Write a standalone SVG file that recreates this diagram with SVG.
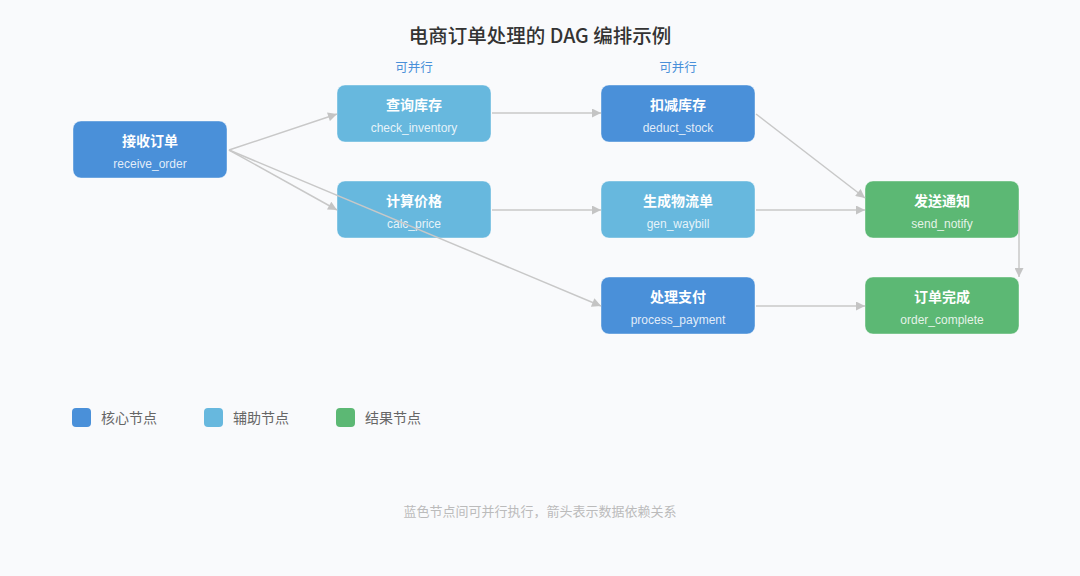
<svg xmlns="http://www.w3.org/2000/svg" width="1080" height="576" viewBox="0 0 1080 576">
<defs>
<marker id="arr" viewBox="0 0 10 10" refX="10" refY="5" markerWidth="10" markerHeight="9" markerUnits="userSpaceOnUse" orient="auto">
<path d="M0,0 L10,5 L0,10 z" fill="#c4c4c4"/>
</marker>
<style>
text{font-family:"Noto Sans CJK SC","Liberation Sans",sans-serif}
.title{font-size:19.5px;font-weight:500;fill:#333;text-anchor:middle}
.par{font-size:12.5px;fill:#4A90D9;text-anchor:middle}
.nt{font-size:14px;font-weight:bold;fill:#fff;text-anchor:middle}
.ns{font-family:"Liberation Sans",sans-serif;font-size:12px;fill:#fff;fill-opacity:0.85;text-anchor:middle}
.core{fill:#4A90D9;stroke:#ffffff;stroke-opacity:0.4;stroke-width:1}
.aux{fill:#67B8DE;stroke:#ffffff;stroke-opacity:0.4;stroke-width:1}
.res{fill:#5CB874;stroke:#ffffff;stroke-opacity:0.4;stroke-width:1}
.edge{stroke:#c8c8c8;stroke-width:1.5;fill:none;marker-end:url(#arr)}
.leg{font-size:14px;fill:#666}
.foot{font-size:13px;fill:#bbb;text-anchor:middle}
</style>
</defs>
<rect width="1080" height="576" fill="#f9fafc"/>
<text class="title" x="540" y="43">电商订单处理的 DAG 编排示例</text>
<text class="par" x="414" y="72">可并行</text>
<text class="par" x="678" y="72">可并行</text>

<g id="receive_order"><rect class="core" x="73" y="121" width="154" height="57" rx="8"/><text class="nt" x="150" y="146">接收订单</text><text class="ns" x="150" y="168">receive_order</text></g>
<g id="check_inventory"><rect class="aux" x="337" y="85" width="154" height="57" rx="8"/><text class="nt" x="414" y="110">查询库存</text><text class="ns" x="414" y="132">check_inventory</text></g>
<g id="calc_price"><rect class="aux" x="337" y="181" width="154" height="57" rx="8"/><text class="nt" x="414" y="206">计算价格</text><text class="ns" x="414" y="228">calc_price</text></g>
<g id="deduct_stock"><rect class="core" x="601" y="85" width="154" height="57" rx="8"/><text class="nt" x="678" y="110">扣减库存</text><text class="ns" x="678" y="132">deduct_stock</text></g>
<g id="gen_waybill"><rect class="aux" x="601" y="181" width="154" height="57" rx="8"/><text class="nt" x="678" y="206">生成物流单</text><text class="ns" x="678" y="228">gen_waybill</text></g>
<g id="process_payment"><rect class="core" x="601" y="277" width="154" height="57" rx="8"/><text class="nt" x="678" y="302">处理支付</text><text class="ns" x="678" y="324">process_payment</text></g>
<g id="send_notify"><rect class="res" x="865" y="181" width="154" height="57" rx="8"/><text class="nt" x="942" y="206">发送通知</text><text class="ns" x="942" y="228">send_notify</text></g>
<g id="order_complete"><rect class="res" x="865" y="277" width="154" height="57" rx="8"/><text class="nt" x="942" y="302">订单完成</text><text class="ns" x="942" y="324">order_complete</text></g>

<g id="connectors">
<line class="edge" x1="229" y1="150" x2="337" y2="114"/>
<line class="edge" x1="229" y1="150" x2="337" y2="210"/>
<line class="edge" x1="229" y1="150" x2="601" y2="306"/>
<line class="edge" x1="492" y1="113" x2="601" y2="113"/>
<line class="edge" x1="492" y1="210" x2="601" y2="210"/>
<line class="edge" x1="756" y1="114" x2="865" y2="198"/>
<line class="edge" x1="756" y1="210" x2="865" y2="210"/>
<line class="edge" x1="1019" y1="210" x2="1019" y2="277"/>
<line class="edge" x1="756" y1="306" x2="865" y2="306"/>
</g>

<g id="legend">
<rect x="72" y="408" width="19" height="19" rx="4" fill="#4A90D9"/>
<text class="leg" x="101" y="423">核心节点</text>
<rect x="204" y="408" width="19" height="19" rx="4" fill="#67B8DE"/>
<text class="leg" x="233" y="423">辅助节点</text>
<rect x="336" y="408" width="19" height="19" rx="4" fill="#5CB874"/>
<text class="leg" x="365" y="423">结果节点</text>
</g>
<text class="foot" x="540" y="516">蓝色节点间可并行执行，箭头表示数据依赖关系</text>
</svg>
